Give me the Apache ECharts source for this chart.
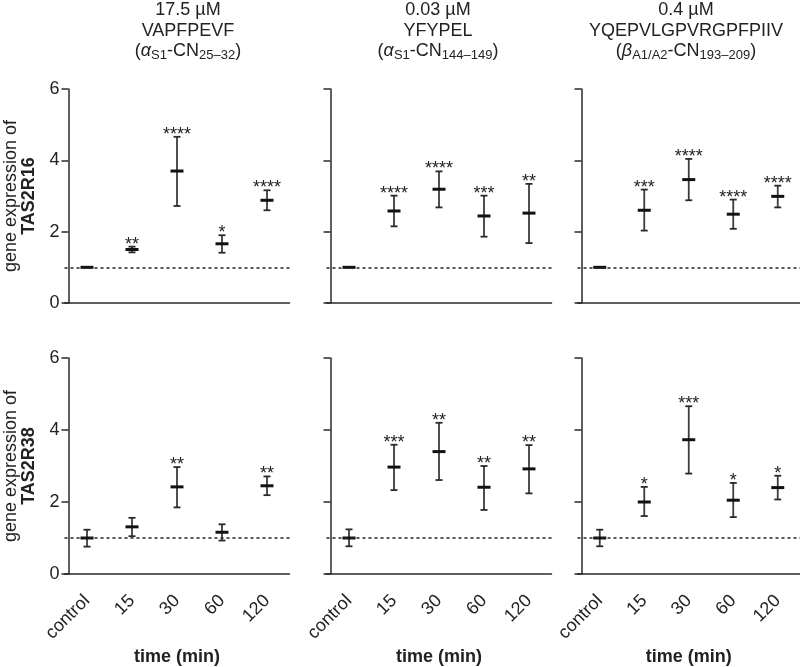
<!DOCTYPE html>
<html><head><meta charset="utf-8">
<script src="https://cdn.jsdelivr.net/npm/echarts@6/dist/echarts.min.js"></script>
<style>html,body{margin:0;padding:0;background:#fff}#c{width:800px;height:667px}</style>
</head><body><div id="c"></div>
<script>
// ---- data ----
const categories = ['control', '15', '30', '60', '120'];
const baselineLevel = 1;
const yTicks = [0, 2, 4, 6];

// TAS2R16 (top row)
const r16MeanVAP = [1.00, 1.50, 3.70, 1.66, 2.88];
const r16LowVAP  = [1.00, 1.42, 2.72, 1.41, 2.60];
const r16HighVAP = [1.00, 1.58, 4.66, 1.90, 3.16];
const r16SigVAP  = ['', '**', '****', '*', '****'];

const r16MeanYFY = [1.00, 2.58, 3.19, 2.44, 2.52];
const r16LowYFY  = [1.00, 2.15, 2.68, 1.86, 1.68];
const r16HighYFY = [1.00, 3.01, 3.69, 3.01, 3.34];
const r16SigYFY  = ['', '****', '****', '***', '**'];

const r16MeanYQE = [1.00, 2.60, 3.46, 2.49, 2.99];
const r16LowYQE  = [1.00, 2.03, 2.88, 2.08, 2.68];
const r16HighYQE = [1.00, 3.18, 4.04, 2.90, 3.29];
const r16SigYQE  = ['', '***', '****', '****', '****'];

// TAS2R38 (bottom row)
const r38MeanVAP = [1.00, 1.31, 2.42, 1.16, 2.45];
const r38LowVAP  = [0.76, 1.05, 1.85, 0.93, 2.19];
const r38HighVAP = [1.23, 1.56, 2.97, 1.38, 2.71];
const r38SigVAP  = ['', '', '**', '', '**'];

const r38MeanYFY = [1.00, 2.97, 3.40, 2.41, 2.92];
const r38LowYFY  = [0.77, 2.33, 2.61, 1.78, 2.24];
const r38HighYFY = [1.24, 3.59, 4.20, 3.00, 3.58];
const r38SigYFY  = ['', '***', '**', '**', '**'];

const r38MeanYQE = [1.00, 2.00, 3.73, 2.05, 2.40];
const r38LowYQE  = [0.77, 1.61, 2.79, 1.58, 2.07];
const r38HighYQE = [1.23, 2.42, 4.66, 2.53, 2.73];
const r38SigYQE  = ['', '*', '***', '*', '*'];

const concentrations = ['17.5 µM', '0.03 µM', '0.4 µM'];
const peptides = ['VAPFPEVF', 'YFYPEL', 'YQEPVLGPVRGPFPIIV'];
const origins = [
  '({i|α}{s|S1}-CN{s|25–32})',
  '({i|α}{s|S1}-CN{s|144–149})',
  '({i|β}{s|A1/A2}-CN{s|193–209})'
];
const receptors = ['TAS2R16', 'TAS2R38'];
const xName = 'time (min)';
const yNamePrefix = 'gene expression of';

// ---- layout ----
const FONT = '"Liberation Sans", Arial, Helvetica, sans-serif';
const AX = '#2a2a2a';
const colLeft = [64.5, 326.5, 577.5];
const colWidth = 225;
const rowTop = [89, 358];
const rowHeight = [214, 216];
const titleCenter = [188, 438, 686];

const panels = [
  {row: 0, col: 0, mean: r16MeanVAP, low: r16LowVAP, high: r16HighVAP, sig: r16SigVAP},
  {row: 0, col: 1, mean: r16MeanYFY, low: r16LowYFY, high: r16HighYFY, sig: r16SigYFY},
  {row: 0, col: 2, mean: r16MeanYQE, low: r16LowYQE, high: r16HighYQE, sig: r16SigYQE},
  {row: 1, col: 0, mean: r38MeanVAP, low: r38LowVAP, high: r38HighVAP, sig: r38SigVAP},
  {row: 1, col: 1, mean: r38MeanYFY, low: r38LowYFY, high: r38HighYFY, sig: r38SigYFY},
  {row: 1, col: 2, mean: r38MeanYQE, low: r38LowYQE, high: r38HighYQE, sig: r38SigYQE}
];

function makeRender(sig) {
  return function (params, api) {
    const i = api.value(0), m = api.value(1), lo = api.value(2), hi = api.value(3);
    const pm = api.coord([i, m]);
    const pl = api.coord([i, lo]);
    const ph = api.coord([i, hi]);
    const x = pm[0];
    const children = [];
    if (hi > lo) {
      children.push({type: 'line', shape: {x1: x, y1: ph[1], x2: x, y2: pl[1]}, style: {stroke: '#3c3c3c', lineWidth: 1.8}});
      children.push({type: 'line', shape: {x1: x - 3.5, y1: ph[1], x2: x + 3.5, y2: ph[1]}, style: {stroke: '#2a2a2a', lineWidth: 1.8}});
      children.push({type: 'line', shape: {x1: x - 3.5, y1: pl[1], x2: x + 3.5, y2: pl[1]}, style: {stroke: '#2a2a2a', lineWidth: 1.8}});
    }
    children.push({type: 'line', shape: {x1: x - 6.5, y1: pm[1], x2: x + 6.5, y2: pm[1]}, style: {stroke: '#111', lineWidth: 3}});
    const s = sig[params.dataIndex];
    if (s) {
      children.push({type: 'text', style: {text: s, x: x, y: ph[1] - 2, align: 'center', verticalAlign: 'middle',
        fontSize: 18, fontFamily: FONT, fill: '#222'}});
    }
    return {type: 'group', children: children};
  };
}

const grid = [], xAxis = [], yAxis = [], series = [];
panels.forEach((p, k) => {
  grid.push({left: colLeft[p.col], width: colWidth, top: rowTop[p.row], height: rowHeight[p.row]});
  const bottom = p.row === 1;
  xAxis.push({
    type: 'category', gridIndex: k, data: categories, boundaryGap: true,
    axisLine: {lineStyle: {color: AX, width: 1.5}},
    axisTick: {alignWithLabel: true, length: 8, lineStyle: {color: AX, width: 1.5}},
    axisLabel: {show: bottom, rotate: 45, fontSize: 18, margin: 24, color: '#222', fontFamily: FONT},
    name: bottom ? xName : '', nameLocation: 'middle', nameGap: 74,
    nameTextStyle: {fontSize: 18, fontWeight: 'bold', color: '#222', fontFamily: FONT}
  });
  const left = p.col === 0;
  yAxis.push({
    type: 'value', gridIndex: k, min: yTicks[0], max: yTicks[yTicks.length - 1], interval: 2, offset: -4,
    splitLine: {show: false},
    axisLine: {show: true, lineStyle: {color: AX, width: 1.5}},
    axisTick: {show: true, length: 7, lineStyle: {color: AX, width: 1.5}},
    axisLabel: {show: left, fontSize: 18, margin: 9, color: '#222', fontFamily: FONT},
    name: left ? '{n|' + yNamePrefix + '}\n{b|' + receptors[p.row] + '}' : '',
    nameLocation: 'middle', nameRotate: 90, nameGap: 30,
    nameTextStyle: {fontFamily: FONT, color: '#222', lineHeight: 18,
      rich: {n: {fontSize: 18, fontFamily: FONT, color: '#222', lineHeight: 18},
             b: {fontSize: 18, fontWeight: 'bold', fontFamily: FONT, color: '#222', lineHeight: 18}}}
  });
  series.push({
    type: 'custom', xAxisIndex: k, yAxisIndex: k,
    data: categories.map((c, i) => [i, p.mean[i], p.low[i], p.high[i]]),
    encode: {x: 0, y: [1, 2, 3]},
    renderItem: makeRender(p.sig),
    markLine: {symbol: 'none', silent: true, label: {show: false},
      lineStyle: {type: [3, 3], color: '#222', width: 1.5},
      emphasis: {disabled: true},
      data: [{yAxis: baselineLevel}]}
  });
});

const title = concentrations.map((c, j) => ({
  text: c + '\n' + peptides[j] + '\n' + origins[j],
  left: titleCenter[j], top: 0, padding: 0, textAlign: 'center',
  textStyle: {fontSize: 18, fontWeight: 'normal', color: '#222', fontFamily: FONT, lineHeight: 20.5,
    rich: {
      i: {fontSize: 18, fontStyle: 'italic', fontFamily: FONT, color: '#222', lineHeight: 20.5},
      s: {fontSize: 13, fontFamily: FONT, color: '#222', verticalAlign: 'bottom', lineHeight: 14}
    }}
}));

const chart = echarts.init(document.getElementById('c'), null, {renderer: 'canvas'});
chart.setOption({animation: false, backgroundColor: '#fff', title, grid, xAxis, yAxis, series});
</script></body></html>
